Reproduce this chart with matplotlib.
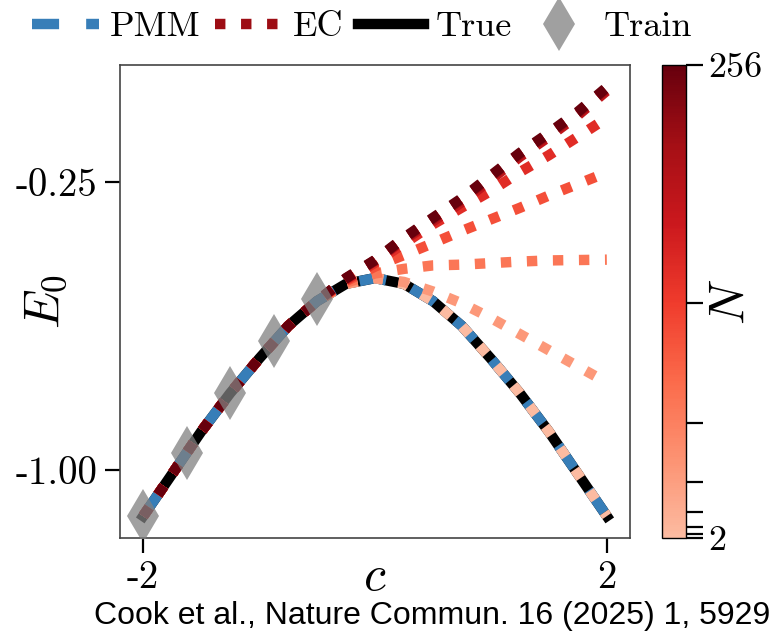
import numpy as np
import matplotlib
matplotlib.use("Agg")
import matplotlib.pyplot as plt
from matplotlib.colors import LinearSegmentedColormap, Normalize
from matplotlib.cm import ScalarMappable
from matplotlib.lines import Line2D

plt.rcParams['font.family'] = 'serif'
plt.rcParams['font.serif'] = ['cmr10']
plt.rcParams['mathtext.fontset'] = 'cm'
plt.rcParams['axes.unicode_minus'] = False

# datos
c_vals = [-2.0, -1.75, -1.5, -1.25, -1.0, -0.75, -0.5, -0.25, 0.0,
          0.25, 0.5, 0.75, 1.0, 1.25, 1.5, 1.75, 2.0]
e_true = [-1.12, -1.01, -0.90, -0.80, -0.71, -0.625, -0.56, -0.515, -0.50,
          -0.515, -0.56, -0.625, -0.71, -0.80, -0.90, -1.01, -1.12]
e_pmm = [-1.12, -1.01, -0.90, -0.80, -0.71, -0.625, -0.56, -0.515, -0.50,
         -0.515, -0.56, -0.625, -0.71, -0.80, -0.90, -1.01, -1.12]

n_vals = [2, 4, 8, 16, 32, 64, 128, 256]
ec_2 = [-1.12, -1.01, -0.90, -0.80, -0.71, -0.625, -0.56, -0.515, -0.50,
        -0.515, -0.56, -0.625, -0.71, -0.80, -0.90, -1.01, -1.12]
ec_4 = [-1.12, -1.01, -0.90, -0.80, -0.71, -0.625, -0.56, -0.515, -0.500,
        -0.510, -0.535, -0.566, -0.604, -0.646, -0.688, -0.730, -0.772]
ec_8 = [-1.12, -1.01, -0.90, -0.80, -0.71, -0.625, -0.56, -0.512, -0.488,
        -0.476, -0.467, -0.465, -0.461, -0.457, -0.454, -0.453, -0.452]
ec_16 = [-1.12, -1.01, -0.90, -0.80, -0.71, -0.625, -0.56, -0.508, -0.470,
         -0.440, -0.409, -0.377, -0.347, -0.317, -0.285, -0.255, -0.225]
ec_32 = [-1.12, -1.01, -0.90, -0.80, -0.71, -0.625, -0.56, -0.505, -0.460,
         -0.410, -0.360, -0.316, -0.273, -0.224, -0.180, -0.132, -0.083]
ec_64 = [-1.12, -1.01, -0.90, -0.80, -0.71, -0.625, -0.56, -0.502, -0.455,
         -0.400, -0.352, -0.302, -0.243, -0.184, -0.132, -0.076, -0.012]
ec_128 = [-1.12, -1.01, -0.90, -0.80, -0.71, -0.625, -0.56, -0.501, -0.454,
          -0.397, -0.346, -0.295, -0.236, -0.177, -0.125, -0.070, -0.006]
ec_256 = [-1.12, -1.01, -0.90, -0.80, -0.71, -0.625, -0.56, -0.500, -0.453,
          -0.395, -0.343, -0.292, -0.233, -0.174, -0.122, -0.067, -0.003]
ec_lines = [ec_2, ec_4, ec_8, ec_16, ec_32, ec_64, ec_128, ec_256]

train_c = [-2.0, -1.625, -1.25, -0.875, -0.5]
train_e = [-1.12, -0.955, -0.80, -0.665, -0.555]

reds = plt.get_cmap('Reds')
cmap = LinearSegmentedColormap.from_list('reds_cut', reds(np.linspace(0.25, 1.0, 256)))

W, H = 772, 632
fig = plt.figure(figsize=(W / 100, H / 100), dpi=100)
ax = fig.add_axes([120 / W, 94 / H, 510 / W, 473 / H])
cax = fig.add_axes([662 / W, 94 / H, 24 / W, 473 / H])

lw = 7.5
dash_pmm = (0, (2.6, 2.6))
dot_ec = (0, (1, 1.5))

ax.plot(c_vals, e_true, color='black', lw=lw, zorder=2)
ax.plot(c_vals, e_pmm, color='#377eb8', lw=lw, ls=dash_pmm, zorder=3)
for i, e in enumerate(ec_lines):
    ax.plot(c_vals, e, color=cmap(i / (len(n_vals) - 1)), lw=lw, ls=dot_ec, zorder=4)
train, = ax.plot(train_c, train_e, ls='none', marker='d', ms=27, color='gray',
                 alpha=0.75, mew=0, zorder=5)

ax.set_xlim(-2.2, 2.2)
ax.set_ylim(-1.177, 0.055)
ax.set_xticks([-2, 2])
ax.set_xticklabels(['-2', '2'])
ax.set_yticks([-0.25, -1.0])
ax.set_yticklabels(['-0.25', '-1.00'])
ax.tick_params(direction='out', length=11, width=1.6, labelsize=28, pad=5)
for s in ax.spines.values():
    s.set_color('#444444')
    s.set_linewidth(1.2)

ax.set_xlabel('$c$', fontsize=36)
ax.xaxis.set_label_coords(0.5, -0.035)
ax.set_ylabel('$E_0$', fontsize=36)
ax.yaxis.set_label_coords(-0.10, 0.5)

sm = ScalarMappable(norm=Normalize(2, 256), cmap=cmap)
cb = fig.colorbar(sm, cax=cax, ticks=n_vals)
cb.ax.set_yticklabels(['2', '', '', '', '', '', '', '256'])
cb.ax.tick_params(length=12, width=1.6, labelsize=26, pad=4)
cb.outline.set_linewidth(1.0)
cb.set_label('$N$', fontsize=36)
cb.ax.yaxis.set_label_coords(1.9, 0.5)

handles = [Line2D([], [], color='#377eb8', lw=lw, ls=dash_pmm),
           Line2D([], [], color=cmap(0.85), lw=lw, ls=dot_ec),
           Line2D([], [], color='black', lw=lw),
           train]
fig.legend(handles, ['PMM', 'EC', 'True', 'Train'], loc='center',
           bbox_to_anchor=(362 / W, 1 - 27 / H), ncol=4, frameon=False,
           fontsize=26, handlelength=1.85, handletextpad=0.3, columnspacing=0.4)

fig.text(770 / W, 8 / H, 'Cook et al., Nature Commun. 16 (2025) 1, 5929',
         ha='right', va='baseline', fontsize=23, family='Liberation Sans')

fig.savefig('out.png', dpi=100)
